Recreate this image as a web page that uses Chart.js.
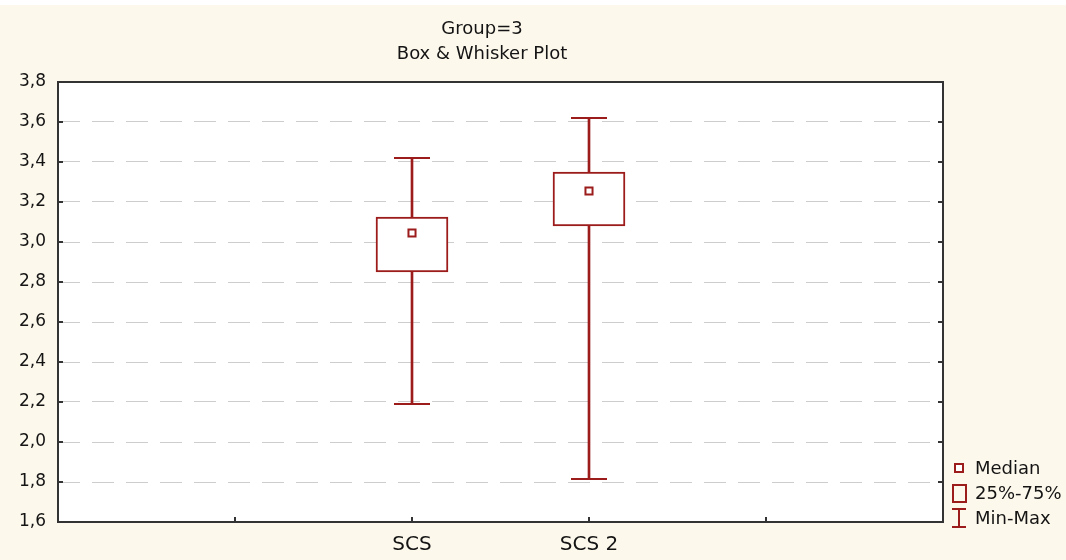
<!DOCTYPE html>
<html>
<head>
<meta charset="utf-8">
<script src="https://cdn.jsdelivr.net/npm/chart.js@4/dist/chart.umd.min.js"></script>
<style>
  body { margin: 0; background: #ffffff; }
  canvas { display: block; }
</style>
</head>
<body>
<canvas id="boxChart" width="1066" height="560"></canvas>
<script>
// axis slots: the two groups sit in the middle of five equal slots
const tickLabels = ["", "", "SCS", "SCS 2", "", ""];
const categories = ["SCS", "SCS 2"];
const minVals = [2.19, 1.815];
const q1Vals = [2.85, 3.08];
const medianVals = [3.045, 3.255];
const q3Vals = [3.125, 3.35];
const maxVals = [3.42, 3.62];
const yTicks = [1.6, 1.8, 2.0, 2.2, 2.4, 2.6, 2.8, 3.0, 3.2, 3.4, 3.6, 3.8];
const titleLines = ["Group=3", "Box & Whisker Plot"];
const legendItems = ["Median", "25%-75%", "Min-Max"];

const RED = "#9c1c1c";
const FONT = "'DejaVu Sans', sans-serif";

// line up a series with the axis labels (null where no group)
function onAxis(values) {
    return tickLabels.map(l => {
        let i = categories.indexOf(l);
        return i < 0 ? null : values(i);
    });
}

const yMin = yTicks[0], yMax = yTicks[yTicks.length - 1];

const framePlugin = {
    id: "frame",
    beforeDraw(chart) {
        const ctx = chart.ctx, a = chart.chartArea;
        ctx.save();
        ctx.fillStyle = "#fdf8ec";
        ctx.fillRect(0, 5, chart.width, chart.height - 5);
        ctx.fillStyle = "#ffffff";
        ctx.fillRect(a.left, a.top, a.right - a.left, a.bottom - a.top);
        ctx.restore();
    },
    afterDraw(chart) {
        const ctx = chart.ctx, a = chart.chartArea;
        const xs = chart.scales.x, ys = chart.scales.y;
        ctx.save();
        ctx.strokeStyle = "#333333";
        ctx.lineWidth = 2;
        ctx.strokeRect(a.left, a.top, a.right - a.left, a.bottom - a.top);

        // short inward ticks
        ctx.beginPath();
        ys.ticks.forEach(t => {
            if (t.value <= yMin + 1e-9 || t.value >= yMax - 1e-9) return;
            let y = ys.getPixelForValue(t.value);
            ctx.moveTo(a.left, y); ctx.lineTo(a.left + 5, y);
            ctx.moveTo(a.right - 5, y); ctx.lineTo(a.right, y);
        });
        for (let i = 1; i < tickLabels.length - 1; i++) {
            let x = xs.getPixelForValue(i);
            ctx.moveTo(x, a.bottom); ctx.lineTo(x, a.bottom - 5);
        }
        ctx.stroke();

        // title
        ctx.fillStyle = "#141414";
        ctx.font = "18px " + FONT;
        ctx.textAlign = "center";
        ctx.textBaseline = "middle";
        ctx.fillText(titleLines[0], 482, 29);
        ctx.fillText(titleLines[1], 482, 54);

        // legend
        ctx.textAlign = "left";
        ctx.strokeStyle = RED;
        ctx.lineWidth = 2;
        ctx.fillStyle = "#ffffff";
        ctx.fillRect(955, 464, 8, 8);
        ctx.strokeRect(955, 464, 8, 8);
        ctx.strokeRect(953, 485, 13, 17);
        ctx.beginPath();
        ctx.moveTo(952, 509); ctx.lineTo(966, 509);
        ctx.moveTo(959, 509); ctx.lineTo(959, 527);
        ctx.moveTo(952, 527); ctx.lineTo(966, 527);
        ctx.stroke();
        ctx.fillStyle = "#141414";
        ctx.fillText(legendItems[0], 975, 469);
        ctx.fillText(legendItems[1], 975, 494);
        ctx.fillText(legendItems[2], 975, 519);
        ctx.restore();
    }
};

const ctx = document.getElementById("boxChart").getContext("2d");
new Chart(ctx, {
    type: "bar",
    data: {
        labels: tickLabels,
        datasets: [
            {
                type: "line",
                label: "Median",
                data: onAxis(i => medianVals[i]),
                showLine: false,
                pointStyle: "rect",
                pointRadius: 5,
                pointBorderWidth: 2,
                pointBorderColor: RED,
                pointBackgroundColor: "#ffffff"
            },
            {
                label: "25%-75%",
                data: onAxis(i => [q1Vals[i], q3Vals[i]]),
                backgroundColor: "#ffffff",
                borderColor: RED,
                borderWidth: 2,
                borderSkipped: false,
                barThickness: 72,
                grouped: false
            },
            {
                label: "Min-Max",
                data: onAxis(i => [minVals[i], maxVals[i]]),
                backgroundColor: RED,
                borderWidth: 0,
                barThickness: 2,
                grouped: false
            },
            {
                type: "line",
                label: "Max cap",
                data: onAxis(i => maxVals[i]),
                showLine: false,
                pointStyle: "line",
                pointRadius: 18,
                pointBorderWidth: 2,
                pointBorderColor: RED
            },
            {
                type: "line",
                label: "Min cap",
                data: onAxis(i => minVals[i]),
                showLine: false,
                pointStyle: "line",
                pointRadius: 18,
                pointBorderWidth: 2,
                pointBorderColor: RED
            }
        ]
    },
    options: {
        responsive: false,
        animation: false,
        layout: { padding: { top: 82, right: 123, left: 0, bottom: 0 } },
        plugins: {
            legend: { display: false },
            title: { display: false },
            tooltip: { enabled: false }
        },
        scales: {
            x: {
                type: "category",
                offset: false,
                grid: { display: false },
                border: { display: false },
                ticks: {
                    autoSkip: false,
                    maxRotation: 0,
                    padding: 3,
                    color: "#141414",
                    font: { family: FONT, size: 20 }
                },
                afterFit: s => { s.height = 38; }
            },
            y: {
                min: yMin,
                max: yMax,
                grid: {
                    drawTicks: false,
                    lineWidth: 1,
                    color: c => (c.tick.value <= yMin + 1e-9 || c.tick.value >= yMax - 1e-9) ? "rgba(0,0,0,0)" : "#cdcdcd"
                },
                border: { display: false, dash: [22, 12] },
                afterBuildTicks: s => { s.ticks = yTicks.map(v => ({ value: v })); },
                ticks: {
                    padding: 12,
                    color: "#141414",
                    font: { family: FONT, size: 17 },
                    callback: v => v.toFixed(1).replace(".", ",")
                },
                afterFit: s => { s.width = 58; }
            }
        }
    },
    plugins: [framePlugin]
});
</script>
</body>
</html>
